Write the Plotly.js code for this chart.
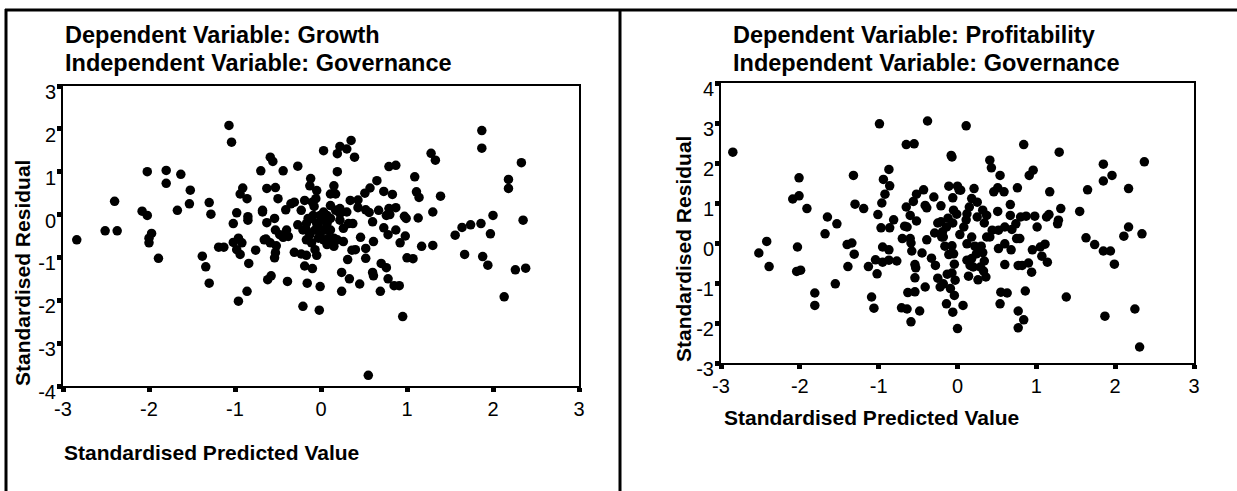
<!DOCTYPE html>
<html>
<head>
<meta charset="utf-8">
<script src="https://cdn.plot.ly/plotly-3.0.1.min.js"></script>
<style>html,body{margin:0;padding:0;background:#fff;}#chart{width:1237px;height:491px;}</style>
</head>
<body>
<div id="chart"></div>
<script>
// Left panel: Dependent Variable: Growth
const growthPredicted = [
-1.07,-1.04,1.87,1.87,0.03,0.22,0.30,0.35,0.19,0.39,1.28,1.33,2.33,-0.59,-0.56,-0.27,-0.70,-0.44,0.19,0.79,
0.87,-2.02,-1.80,-1.63,-1.80,1.09,2.18,2.18,-1.52,-0.12,-0.13,-0.05,-0.06,0.65,0.57,0.51,0.73,0.83,1.11,1.14,
1.39,-0.91,-0.94,-0.86,-0.63,-0.53,-0.50,0.15,0.17,0.11,-2.40,-1.30,-1.53,-1.67,-2.08,-2.02,-1.28,-0.98,-0.85,-0.85,
-0.68,-1.02,-0.63,-0.54,-0.41,-0.35,-0.31,-0.23,-0.19,-0.10,-0.08,0.11,0.22,0.34,0.43,0.43,0.52,0.56,0.67,0.79,
0.87,0.80,0.76,0.97,0.99,1.13,1.30,2.00,2.35,1.86,1.74,1.64,1.56,1.97,-2.51,-2.37,-2.84,-1.97,-2.00,-2.00,
-1.89,-1.38,-1.34,-1.30,-1.19,-1.13,-1.02,-0.96,-0.92,-0.98,-0.94,-0.84,-0.76,-0.64,-0.59,-0.52,-0.53,-0.54,-0.62,-0.58,
-0.39,-0.86,-0.96,-0.53,-0.48,-0.40,-0.38,-0.44,-0.27,-0.17,-0.17,-0.11,-0.05,-0.07,-0.01,-0.03,0.03,0.07,-0.01,0.05,
0.11,0.11,0.15,0.19,0.26,0.26,0.22,0.30,0.37,0.15,-0.31,-0.23,-0.17,-0.05,-0.07,0.36,0.31,0.40,0.46,0.52,
0.52,0.61,0.60,0.73,0.78,0.87,0.98,0.92,1.00,1.07,1.17,1.30,1.67,1.88,1.94,2.26,2.38,2.13,-0.19,-0.10,
-0.16,-0.01,-0.21,-0.02,0.24,0.33,0.45,0.24,0.60,0.61,0.70,0.76,0.78,0.85,0.91,0.69,0.95,0.55,
-0.09,0.01,0.07,0.05,-0.03,-0.21,-0.15,0.07,0.03,0.17,0.22,0.32,0.09,0.11,-0.68,-0.66,-0.17,-0.13,-0.11
];
const growthResidual = [
2.08,1.69,1.96,1.55,1.49,1.59,1.53,1.73,1.42,1.34,1.43,1.27,1.21,1.34,1.24,1.13,1.02,1.02,1.00,1.12,
1.15,1.00,1.03,0.94,0.73,0.88,0.82,0.61,0.57,0.84,0.67,0.56,0.37,0.79,0.62,0.50,0.54,0.47,0.53,0.40,
0.43,0.62,0.48,0.37,0.61,0.63,0.37,0.67,0.48,0.48,0.31,0.28,0.25,0.10,0.08,-0.02,0.01,0.04,-0.05,-0.13,
0.10,-0.21,-0.19,-0.09,0.11,0.25,0.29,0.10,0.33,0.29,0.19,0.21,0.14,0.33,0.34,0.16,0.11,0.05,0.10,0.14,
0.16,0.00,-0.02,-0.04,-0.09,-0.08,0.06,-0.02,-0.13,-0.21,-0.24,-0.30,-0.48,-0.45,-0.38,-0.38,-0.59,-0.44,-0.55,-0.66,
-1.02,-0.97,-1.22,-1.60,-0.76,-0.76,-0.65,-0.55,-0.66,-0.82,-0.93,-1.14,-0.83,-0.57,-0.66,-0.73,-0.89,-1.01,-1.52,-1.43,
-1.56,-1.79,-2.02,-0.36,-0.47,-0.36,-0.51,-0.53,-0.24,-0.36,-0.21,-0.09,-0.21,-0.36,-0.47,-0.55,-0.59,-0.70,-0.02,-0.05,
-0.09,-0.36,-0.55,-0.59,-0.63,-0.32,-0.13,0.06,-0.21,-0.74,-0.88,-0.92,-0.95,-0.95,-0.82,-0.83,-1.05,-0.82,-0.53,-0.79,
-1.02,-0.63,-0.17,-0.31,-0.47,-0.36,-0.50,-0.66,-1.01,-1.03,-0.74,-0.72,-0.93,-0.98,-1.18,-1.29,-1.25,-1.92,-1.20,-1.26,
-1.60,-1.68,-2.14,-2.23,-1.35,-1.50,-1.62,-1.79,-1.35,-1.43,-1.14,-1.24,-1.50,-1.66,-1.66,-1.79,-2.38,-3.75,
-0.02,-0.13,-0.21,-0.36,-0.28,-0.36,-0.09,-0.02,0.06,0.10,0.02,-0.21,-0.55,-0.66,0.06,-0.59,-0.59,-0.47,-0.66
];

// Right panel: Dependent Variable: Profitability
const profitPredicted = [
-2.85,-0.99,-0.38,0.11,-0.65,-0.55,0.84,-0.08,-0.07,1.29,2.37,1.85,1.96,1.85,2.17,1.65,1.17,0.96,0.91,0.41,
0.43,0.54,-1.32,-2.01,-2.01,-2.09,-1.91,-1.30,-1.19,-0.87,-0.94,-0.86,-0.92,-0.96,-1.01,-0.97,-0.86,-0.81,-1.65,-1.53,
-1.68,-2.42,-2.52,-2.39,-2.03,-2.04,-1.99,-1.81,-1.81,-1.55,-1.40,-1.34,-1.31,-1.39,-1.13,-1.02,-1.04,-0.95,-0.87,-0.95,
-0.87,-0.77,-1.09,-1.06,-0.71,-0.64,-0.59,-0.48,-0.63,-0.54,-0.41,-0.54,-0.53,-0.54,-0.45,-0.58,-0.59,-0.70,-0.67,-0.52,
-0.60,-0.65,-0.56,-0.52,-0.43,-0.41,-0.39,-0.39,-0.29,-0.25,-0.30,-0.21,-0.33,-0.28,-0.25,-0.22,-0.18,-0.14,-0.06,-0.09,
-0.04,0.00,0.07,-0.13,-0.07,-0.04,-0.11,-0.16,-0.07,-0.18,-0.14,-0.21,-0.12,-0.06,0.03,-0.05,-0.01,-0.06,-0.11,0.00,
0.02,0.21,0.18,0.25,0.15,0.12,0.11,0.25,0.32,0.37,0.34,0.12,0.22,0.30,0.32,0.34,0.12,0.18,0.20,0.14,
0.26,0.33,0.36,0.37,0.44,0.52,0.46,0.51,0.59,0.51,0.67,0.67,0.60,0.69,0.74,0.80,0.87,0.98,1.01,0.76,
0.75,0.60,0.52,0.68,0.60,0.82,0.90,0.94,0.95,1.05,1.11,1.07,1.14,1.13,1.16,1.27,1.31,1.55,1.63,1.74,
1.85,1.94,1.99,2.11,2.17,2.34,1.38,1.87,2.25,2.31,0.54,0.55,0.63,0.86,0.77,0.84,0.77,
-0.60,-0.64,0.04,0.79,1.28,-0.19,-0.20,0.08,0.18,0.24,0.16,0.29,-0.03,-0.05,0.41,0.77
];
const profitResidual = [
2.27,2.98,3.05,2.93,2.46,2.48,2.46,2.19,2.15,2.27,2.03,1.97,1.69,1.55,1.36,1.33,1.28,1.82,1.69,2.07,
1.88,1.69,1.69,1.63,1.18,1.10,0.86,0.97,0.86,1.84,1.59,1.43,1.22,1.00,0.71,0.38,0.38,0.58,0.65,0.48,
0.23,0.04,-0.25,-0.59,-0.10,-0.71,-0.68,-1.25,-1.56,-1.02,-0.04,0.00,-0.28,-0.59,-0.59,-0.77,-0.42,-0.10,-0.17,-0.48,
-0.43,-0.45,-1.35,-1.63,-1.62,-1.65,-1.97,-1.70,-1.24,-1.22,-1.10,-0.87,-0.62,-0.54,-0.25,-0.20,0.00,0.11,0.42,0.55,
0.69,0.90,1.04,1.22,1.33,0.94,0.88,0.08,0.25,0.50,1.15,0.93,-0.38,-0.56,-0.88,-1.10,-1.02,-1.52,-1.73,-1.14,
-1.31,-2.14,-1.56,-0.78,-0.75,-0.53,-0.29,-0.08,-0.07,0.15,0.40,0.53,0.62,0.50,0.21,0.82,0.72,1.13,1.42,1.42,
1.33,1.36,1.11,1.02,0.90,0.73,0.58,0.65,0.82,0.69,0.50,-0.02,-0.08,-0.08,-0.24,-0.45,-0.43,-0.39,-0.60,-0.83,
-0.92,-0.70,-0.85,0.15,0.32,0.32,1.28,1.38,1.28,0.79,0.96,0.69,0.40,0.34,0.48,0.65,0.67,0.67,0.40,1.38,
0.11,-0.02,-0.14,-0.17,-0.54,-0.56,-0.50,-0.73,-0.17,-0.10,-0.03,-0.33,-0.48,0.65,0.71,0.48,0.86,0.79,0.13,-0.04,
-0.20,-0.20,-0.53,0.17,0.40,0.23,-1.35,-1.83,-1.65,-2.60,-1.52,-1.23,-1.25,-1.20,-1.70,-1.92,-2.12,
0.11,0.40,1.32,0.11,0.57,0.28,0.15,0.40,0.15,-0.27,-0.56,-0.60,-0.93,-0.27,0.15,-0.56
];

const xTickVals = [-3,-2,-1,0,1,2,3];
const xTickText = ['-3','-2','-1','0','1','2','3'];
const yTickValsLeft = [-4,-3,-2,-1,0,1,2,3];
const yTickTextLeft = ['-4','-3','-2','-1','0','1','2','3'];
const yTickValsRight = [-3,-2,-1,0,1,2,3,4];
const yTickTextRight = ['-3','-2','-1','0','1','2','3','4'];

const leftTitle1 = 'Dependent Variable: Growth';
const leftTitle2 = 'Independent Variable: Governance';
const rightTitle1 = 'Dependent Variable: Profitability';
const rightTitle2 = 'Independent Variable: Governance';
const xTitle = 'Standardised Predicted Value';
const yTitle = 'Standardised Residual';

const W = 1237, H = 491;
const px = v => v / W;
const py = v => 1 - v / H;
const FONT = 'Liberation Sans, Arial, Helvetica, sans-serif';

const marker = {color: '#000', size: 9.5, line: {width: 0}};
const traces = [
  {type: 'scatter', mode: 'markers', x: growthPredicted, y: growthResidual, marker: marker, xaxis: 'x', yaxis: 'y', hoverinfo: 'skip'},
  {type: 'scatter', mode: 'markers', x: profitPredicted, y: profitResidual, marker: marker, xaxis: 'x2', yaxis: 'y2', hoverinfo: 'skip'}
];

const tickFont = {family: FONT, size: 20, color: '#000'};
function xa(domain, anchor) {
  return {domain: domain, anchor: anchor, range: [-3, 3], tickvals: xTickVals, ticktext: xTickText,
    showgrid: false, zeroline: false, showline: true, mirror: true, linecolor: '#000', linewidth: 2,
    ticks: 'outside', ticklen: 4, tickwidth: 5, tickcolor: '#000', tickfont: tickFont, ticklabelstandoff: 0};
}
function ya(domain, anchor, range, vals, text) {
  return {domain: domain, anchor: anchor, range: range, tickvals: vals, ticktext: text,
    showgrid: false, zeroline: false, showline: true, mirror: true, linecolor: '#000', linewidth: 2,
    ticks: 'outside', ticklen: 4, tickwidth: 5, tickcolor: '#000', tickfont: tickFont,
    ticklabelstandoff: -3, ticklabelshift: 6};
}

const titleFont = {family: FONT, size: 23.5, color: '#000', weight: 'bold'};
const axisTitleFont = {family: FONT, size: 21, color: '#000', weight: 'bold'};
function ann(text, x, y, font, opts) {
  return Object.assign({text: text, x: x, y: y, xref: 'paper', yref: 'paper', showarrow: false,
    xanchor: 'left', yanchor: 'middle', font: font}, opts || {});
}

const layout = {
  width: W, height: H, autosize: false,
  margin: {l: 0, r: 0, t: 0, b: 0, pad: 0},
  paper_bgcolor: '#fff', plot_bgcolor: '#fff', showlegend: false,
  xaxis: xa([px(63), px(579)], 'y'),
  yaxis: ya([py(386), py(86)], 'x', [-4, 3], yTickValsLeft, yTickTextLeft),
  xaxis2: xa([px(721), px(1194)], 'y2'),
  yaxis2: ya([py(363), py(83)], 'x2', [-3, 4], yTickValsRight, yTickTextRight),
  annotations: [
    ann(leftTitle1, px(63), py(35), titleFont),
    ann(leftTitle2, px(63), py(63), titleFont),
    ann(rightTitle1, px(731), py(35), titleFont),
    ann(rightTitle2, px(731), py(63), titleFont),
    ann(xTitle, px(62), py(452), axisTitleFont),
    ann(xTitle, px(722), py(417), axisTitleFont),
    ann(yTitle, px(22), py(388), axisTitleFont, {textangle: -90, xanchor: 'center', yanchor: 'bottom'}),
    ann(yTitle, px(683), py(364), axisTitleFont, {textangle: -90, xanchor: 'center', yanchor: 'bottom'})
  ],
  shapes: [
    {type: 'line', xref: 'paper', yref: 'paper', x0: px(5), x1: 1, y0: py(10), y1: py(10), line: {color: '#000', width: 3}},
    {type: 'line', xref: 'paper', yref: 'paper', x0: px(6), x1: px(6), y0: py(9), y1: 0, line: {color: '#000', width: 3}},
    {type: 'line', xref: 'paper', yref: 'paper', x0: px(620), x1: px(620), y0: py(9), y1: 0, line: {color: '#000', width: 3}}
  ]
};

Plotly.newPlot('chart', traces, layout, {staticPlot: true, displayModeBar: false});
</script>
</body>
</html>
